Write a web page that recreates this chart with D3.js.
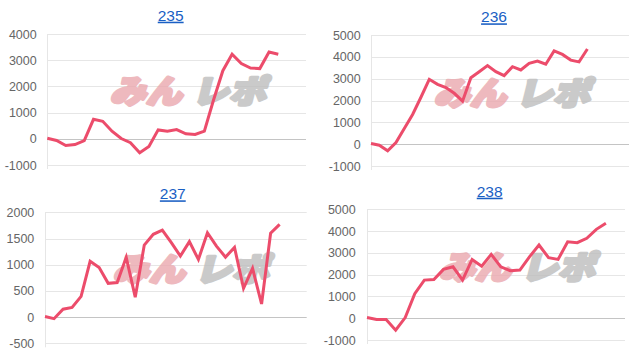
<!DOCTYPE html>
<html><head><meta charset="utf-8">
<script src="https://cdn.jsdelivr.net/npm/d3@7/dist/d3.min.js"></script>
<style>html,body{margin:0;padding:0;background:#fff;}svg{display:block;}</style>
</head><body>
<svg id="c" width="638" height="352"></svg>
<script>
// ---- data ----
const titles = ["235", "236", "237", "238"];
const days235 = [1,2,3,4,5,6,7,8,9,10,11,12,13,14,15,16,17,18,19,20,21,22,23,24,25,26,27,28,29];
const days236 = [1,2,3,4,5,6,7,8,9,10,11,12,13,14,15,16,17,18,19,20,21,22,23,24,25,26,27,28,29,30,31,32];
const days237 = [1,2,3,4,5,6,7,8,9,10,11,12,13,14,15,16,17,18,19,20,21,22,23,24,25,26,27,28,29,30];
const days238 = [1,2,3,4,5,6,7,8,9,10,11,12,13,14,15,16,17,18,19,20,21,22,23,24,25,26,27,28];
const s235 = [20, -65, -255, -220, -70, 745, 670, 290, 10, -150, -530, -290, 340, 290, 350, 190, 165, 290, 1490, 2600, 3230, 2870, 2700, 2680, 3310, 3230];
const s236 = [30, -50, -300, 75, 720, 1360, 2150, 2970, 2740, 2590, 2330, 1970, 3040, 3320, 3600, 3320, 3140, 3550, 3400, 3700, 3810, 3660, 4270, 4110, 3850, 3770, 4360];
const s237 = [10, -30, 150, 185, 395, 1065, 945, 645, 660, 1140, 380, 1375, 1580, 1660, 1420, 1165, 1440, 1100, 1610, 1355, 1145, 1330, 550, 930, 250, 1600, 1770];
const s238 = [30, -60, -60, -550, 30, 1130, 1750, 1780, 2240, 2360, 1750, 2700, 2390, 2930, 2360, 2180, 2210, 2820, 3360, 2780, 2700, 3510, 3470, 3670, 4080, 4360];
const ticks235 = [-1000, 0, 1000, 2000, 3000, 4000];
const ticks236 = [-1000, 0, 1000, 2000, 3000, 4000, 5000];
const ticks237 = [-500, 0, 500, 1000, 1500, 2000];
const ticks238 = [-1000, 0, 1000, 2000, 3000, 4000, 5000];

// ---- layout ----
const panels = [
  {title: titles[0], cats: days235, vals: s235, ticks: ticks235, x0: 47.3, x1: 306, yTop: 34, yBot: 165, tx: 170.7, ty: 20.7, lx: 36.7, wm: {x: 107, y: 77}},
  {title: titles[1], cats: days236, vals: s236, ticks: ticks236, x0: 371, x1: 629, yTop: 35, yBot: 166, tx: 494, ty: 22.3, lx: 360.7, wm: {x: 431, y: 79}},
  {title: titles[2], cats: days237, vals: s237, ticks: ticks237, x0: 45, x1: 306.7, yTop: 212.3, yBot: 343.3, tx: 172.8, ty: 199.3, lx: 34.3, wm: {x: 110, y: 255}},
  {title: titles[3], cats: days238, vals: s238, ticks: ticks238, x0: 367, x1: 625, yTop: 209.3, yBot: 340, tx: 489.7, ty: 196.7, lx: 355.7, wm: {x: 436, y: 253}}
];

const svg = d3.select("#c");

panels.forEach(p => {
  const g = svg.append("g");
  const x = d3.scalePoint().domain(p.cats).range([p.x0, p.x1]).padding(0);
  const y = d3.scaleLinear().domain([p.ticks[0], p.ticks[p.ticks.length - 1]]).range([p.yBot, p.yTop]);

  // grid
  g.selectAll("line.grid").data(p.ticks).enter().append("line")
    .attr("x1", p.x0).attr("x2", p.x1)
    .attr("y1", d => Math.round(y(d)) + 0.5).attr("y2", d => Math.round(y(d)) + 0.5)
    .attr("stroke", d => d === 0 ? "#c4c4c4" : "#e6e6e6").attr("stroke-width", 1);
  g.append("line").attr("x1", Math.round(p.x0) + 0.5).attr("x2", Math.round(p.x0) + 0.5)
    .attr("y1", p.yTop).attr("y2", p.yBot + 4).attr("stroke", "#e6e6e6");

  // tick labels
  g.selectAll("text.tick").data(p.ticks).enter().append("text")
    .attr("x", p.lx).attr("y", d => y(d)).attr("dy", "0.36em")
    .attr("text-anchor", "end")
    .attr("font-family", "Liberation Sans, Arial, sans-serif").attr("font-size", 12.5)
    .attr("fill", "#666").text(d => d);

  // watermark
  const wm = g.append("g").attr("transform", `translate(${p.wm.x},${p.wm.y + 14})`).attr("opacity", 0.8);
  wm.append("text").attr("x", 6).attr("y", 0).attr("dy", "0.38em")
    .attr("transform", "skewX(-14)")
    .attr("font-family", "Noto Sans CJK JP").attr("font-weight", 900).attr("font-size", 32)
    .attr("textLength", 72).attr("lengthAdjust", "spacingAndGlyphs")
    .attr("fill", "#eaa8ae").attr("stroke", "#eaa8ae").attr("stroke-width", 3.2)
    .attr("stroke-linejoin", "round").text("みん");
  wm.append("text").attr("x", 88).attr("y", 0).attr("dy", "0.38em")
    .attr("transform", "skewX(-14)")
    .attr("font-family", "Noto Sans CJK JP").attr("font-weight", 900).attr("font-size", 32)
    .attr("textLength", 74).attr("lengthAdjust", "spacingAndGlyphs")
    .attr("fill", "#bdbdbd").attr("stroke", "#bdbdbd").attr("stroke-width", 3.2)
    .attr("stroke-linejoin", "round").text("レポ");

  // line
  const line = d3.line().x((d, i) => x(p.cats[i])).y(d => y(d));
  g.append("path").datum(p.vals).attr("d", line)
    .attr("fill", "none").attr("stroke", "#ec4c6b").attr("stroke-width", 3)
    .attr("stroke-linejoin", "miter").attr("stroke-linecap", "butt");

  // title
  g.append("text").attr("x", p.tx).attr("y", p.ty).attr("text-anchor", "middle")
    .attr("font-family", "Liberation Sans, Arial, sans-serif").attr("font-size", 15.5)
    .attr("fill", "#1a5fc4").attr("text-decoration", "underline").text(p.title);
});
</script>
</body></html>
